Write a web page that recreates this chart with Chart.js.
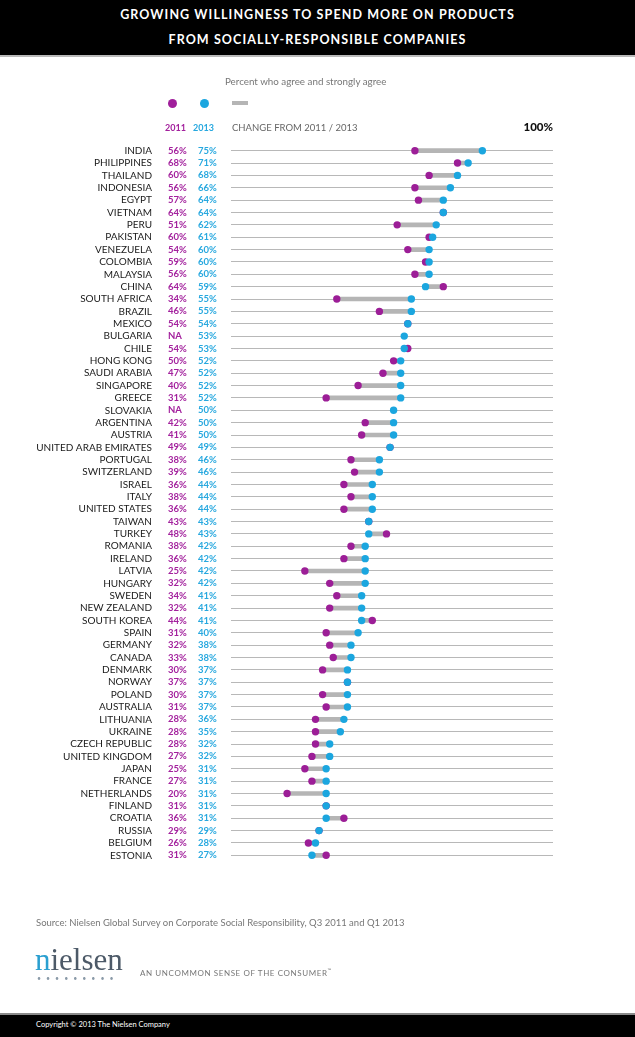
<!DOCTYPE html>
<html>
<head>
<meta charset="utf-8">
<script src="https://cdn.jsdelivr.net/npm/chart.js@4/dist/chart.umd.min.js"></script>
<style>
  body { margin: 0; width: 635px; height: 1037px; position: relative; background: #fff; overflow: hidden; font-family: Lato, "Open Sans", sans-serif; }
  #energyLike { position: absolute; left: 0; top: 0; }
  .abs { position: absolute; white-space: nowrap; }
  .band { position: absolute; left: 0; width: 635px; background: #000; }
  .title { left: 0; width: 635px; text-align: center; color: #fff; font-weight: 700; font-size: 12.5px; letter-spacing: 1.1px; line-height: 16px; }
  .dot { position: absolute; width: 9px; height: 9px; border-radius: 50%; }
</style>
</head>
<body>
<canvas id="energyLike" width="635" height="1037"></canvas>

<div class="band" style="top:0;height:55px;border-bottom:2px solid #b9b9b9;"></div>
<div class="abs title" style="top:7px;">GROWING WILLINGNESS TO SPEND MORE ON PRODUCTS</div>
<div class="abs title" style="top:32px;">FROM SOCIALLY-RESPONSIBLE COMPANIES</div>

<div class="abs" style="left:225px;top:75px;font-size:9.8px;color:#777;line-height:12px;">Percent who agree and strongly agree</div>
<span class="dot" style="left:168px;top:99px;background:#a01f9b;"></span>
<span class="dot" style="left:200px;top:99px;background:#1ba6df;"></span>
<span class="abs" style="left:232px;top:101px;width:16px;height:4px;background:#b5b5b5;"></span>
<div class="abs" style="left:165px;top:122px;font-size:9px;font-weight:700;color:#a3219d;line-height:12px;">2011</div>
<div class="abs" style="left:193px;top:122px;font-size:9px;font-weight:700;color:#27a8df;line-height:12px;">2013</div>
<div class="abs" style="left:232px;top:122px;font-size:9.5px;color:#666;line-height:12px;">CHANGE FROM 2011 / 2013</div>
<div class="abs" style="left:503px;width:50px;text-align:right;top:120px;font-size:11.5px;font-weight:900;color:#111;line-height:14px;">100%</div>

<div class="abs" style="left:36px;top:917px;font-size:9.5px;color:#777;line-height:12px;">Source: Nielsen Global Survey on Corporate Social Responsibility, Q3 2011 and Q1 2013</div>
<div class="abs" style="left:35px;top:945px;font-family:'Liberation Serif',serif;font-size:31px;line-height:30px;color:#4d5a68;"><span style="color:#2a9fd0;">n</span>ielsen</div>
<div class="abs" style="left:37px;top:974px;font-size:7px;letter-spacing:5px;color:#8a9aa8;line-height:8px;">•••••••••</div>
<div class="abs" style="left:140px;top:965px;font-size:8px;letter-spacing:0.6px;color:#777;line-height:10px;">AN UNCOMMON SENSE OF THE CONSUMER<sup style="font-size:5px;">™</sup></div>

<div class="band" style="top:1013px;height:24px;border-top:2px solid #8a8a8a;"></div>
<div class="abs" style="left:36px;top:1020px;font-size:7.5px;color:#fff;line-height:10px;">Copyright © 2013 The Nielsen Company</div>

<script>
// Countries, top to bottom
const countries = [
  "INDIA", "PHILIPPINES", "THAILAND", "INDONESIA", "EGYPT", "VIETNAM", "PERU", "PAKISTAN",
  "VENEZUELA", "COLOMBIA", "MALAYSIA", "CHINA", "SOUTH AFRICA", "BRAZIL", "MEXICO", "BULGARIA",
  "CHILE", "HONG KONG", "SAUDI ARABIA", "SINGAPORE", "GREECE", "SLOVAKIA", "ARGENTINA", "AUSTRIA",
  "UNITED ARAB EMIRATES", "PORTUGAL", "SWITZERLAND", "ISRAEL", "ITALY", "UNITED STATES", "TAIWAN",
  "TURKEY", "ROMANIA", "IRELAND", "LATVIA", "HUNGARY", "SWEDEN", "NEW ZEALAND", "SOUTH KOREA",
  "SPAIN", "GERMANY", "CANADA", "DENMARK", "NORWAY", "POLAND", "AUSTRALIA", "LITHUANIA", "UKRAINE",
  "CZECH REPUBLIC", "UNITED KINGDOM", "JAPAN", "FRANCE", "NETHERLANDS", "FINLAND", "CROATIA",
  "RUSSIA", "BELGIUM", "ESTONIA"
];

// Percent who agree and strongly agree (null = NA)
const share2011 = [
  56, 68, 60, 56, 57, 64, 51, 60, 54, 59, 56, 64, 34, 46, 54, null,
  54, 50, 47, 40, 31, null, 42, 41, 49, 38, 39, 36, 38, 36, 43,
  48, 38, 36, 25, 32, 34, 32, 44, 31, 32, 33, 30, 37, 30, 31, 28, 28,
  28, 27, 25, 27, 20, 31, 36, 29, 26, 31
];
const share2013 = [
  75, 71, 68, 66, 64, 64, 62, 61, 60, 60, 60, 59, 55, 55, 54, 53,
  53, 52, 52, 52, 52, 50, 50, 50, 49, 46, 46, 44, 44, 44, 43,
  43, 42, 42, 42, 42, 41, 41, 41, 40, 38, 38, 37, 37, 37, 37, 36, 35,
  32, 32, 31, 31, 31, 31, 31, 29, 28, 27
];

// Column labels
const label2011 = share2011.map(v => v === null ? "NA" : v + "%");
const label2013 = share2013.map(v => v + "%");

// Gray connector from 2011 to 2013
const changeRange = share2011.map((v, i) => v === null ? null : [v, share2013[i]]);

const ctx = document.getElementById("energyLike").getContext("2d");

// Fixed axis widths so the columns line up with the picture
const fixWidth = w => scale => { scale.width = w; };

const chart = new Chart(ctx, {
  type: "bar",
  data: {
    labels: countries,
    datasets: [
      {
        type: "bar",
        label: "Change from 2011 / 2013",
        data: changeRange,
        backgroundColor: "#b5b5b5",
        barThickness: 4,
        borderSkipped: false,
        order: 3
      },
      {
        type: "line",
        label: "2011",
        indexAxis: "y",
        data: share2011,
        showLine: false,
        pointRadius: 3.7,
        pointBorderWidth: 0,
        pointBackgroundColor: "#9c1e97",
        order: 2
      },
      {
        type: "line",
        label: "2013",
        indexAxis: "y",
        data: share2013,
        showLine: false,
        pointRadius: 3.7,
        pointBorderWidth: 0,
        pointBackgroundColor: "#1ba6df",
        order: 1
      }
    ]
  },
  options: {
    indexAxis: "y",
    responsive: false,
    animation: false,
    events: [],
    layout: {
      padding: { left: 0, right: 82, top: 144.5, bottom: 175.5 }
    },
    plugins: {
      legend: { display: false },
      tooltip: { enabled: false }
    },
    scales: {
      x: {
        type: "linear",
        min: 4.2,
        max: 94.9,
        display: false
      },
      y: {
        type: "category",
        position: "left",
        weight: 3,
        offset: true,
        grid: { offset: false, color: "#b8b8b8", lineWidth: 1, drawTicks: false, tickLength: 0 },
        border: { display: false },
        ticks: {
          autoSkip: false,
          padding: 16,
          color: "#1a1a1a",
          font: { family: "Lato", size: 10 }
        },
        afterFit: fixWidth(168)
      },
      y11: {
        type: "category",
        labels: label2011,
        position: "left",
        weight: 2,
        offset: true,
        grid: { display: false },
        border: { display: false },
        ticks: {
          autoSkip: false,
          crossAlign: "far",
          padding: 0,
          color: "#a3219d",
          font: { family: "Lato", size: 9.5, weight: "bold" }
        },
        afterFit: fixWidth(30)
      },
      y13: {
        type: "category",
        labels: label2013,
        position: "left",
        weight: 1,
        offset: true,
        grid: { display: false },
        border: { display: false },
        ticks: {
          autoSkip: false,
          crossAlign: "far",
          padding: 0,
          color: "#27a8df",
          font: { family: "Lato", size: 9.5, weight: "bold" }
        },
        afterFit: fixWidth(33)
      }
    }
  }
});
</script>
</body>
</html>
